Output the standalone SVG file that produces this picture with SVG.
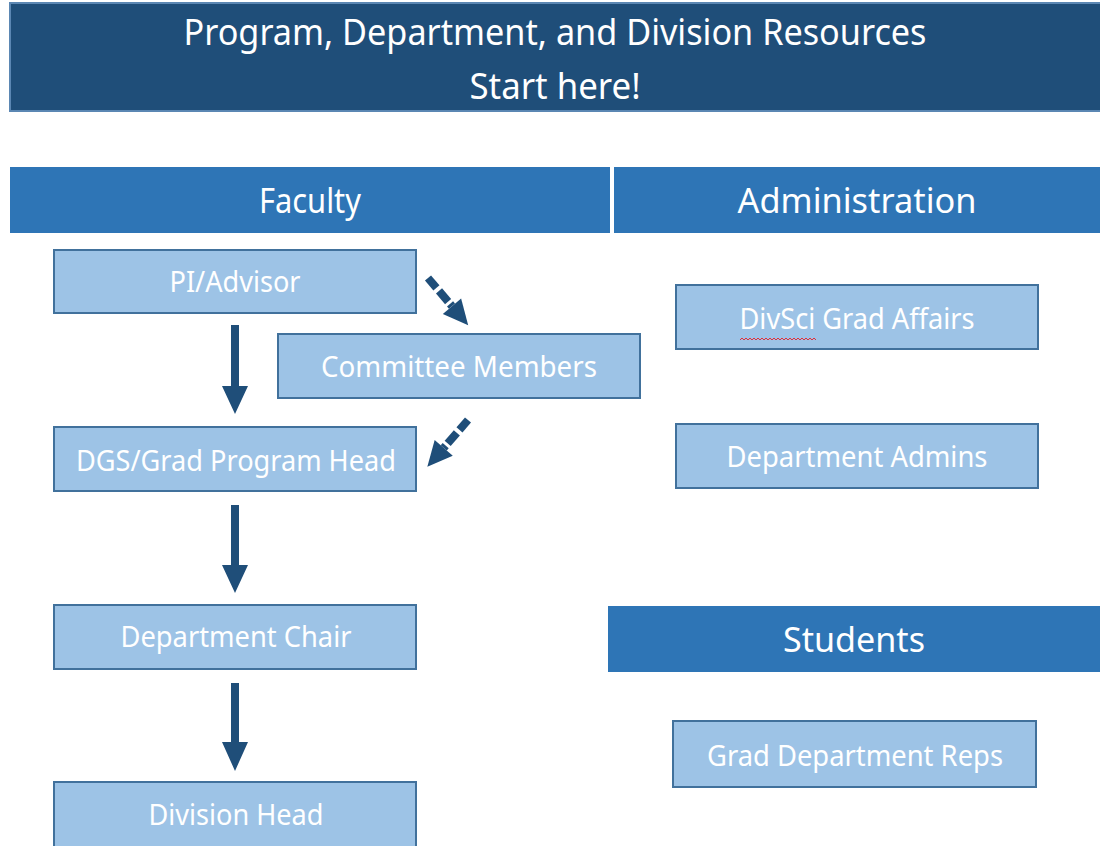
<svg xmlns="http://www.w3.org/2000/svg" width="1100" height="846" viewBox="0 0 1100 846">
<defs>
<style>
.banner{fill:#1f4e79;stroke:#5b87b3;stroke-width:2}
.hdr{fill:#2e75b6}
.box{fill:#9dc3e6;stroke:#41719c;stroke-width:2}
text{font-family:"Noto Sans","Open Sans","Liberation Sans",sans-serif;fill:#ffffff;text-anchor:middle}
.t1{font-size:36px}
.t2{font-size:34px}
.t3{font-size:29px}
.arr{fill:#1f4e79}
</style>
</defs>
<rect width="1100" height="846" fill="#ffffff"/>
<g id="title">
<rect class="banner" x="10" y="3" width="1095" height="108"/>
<text class="t1" x="555" y="45" textLength="743" lengthAdjust="spacingAndGlyphs">Program, Department, and Division Resources</text>
<text class="t1" x="555" y="99" textLength="171" lengthAdjust="spacingAndGlyphs">Start here!</text>
</g>
<g id="faculty-header">
<rect class="hdr" x="10" y="167" width="600" height="66"/>
<text class="t2" x="310" y="213" textLength="102" lengthAdjust="spacingAndGlyphs">Faculty</text>
</g>
<g id="administration-header">
<rect class="hdr" x="614" y="167" width="486" height="66"/>
<text class="t2" x="857" y="213" textLength="239" lengthAdjust="spacingAndGlyphs">Administration</text>
</g>
<g id="students-header">
<rect class="hdr" x="608" y="606" width="492" height="66"/>
<text class="t2" x="854" y="652" textLength="142" lengthAdjust="spacingAndGlyphs">Students</text>
</g>
<g id="pi-advisor">
<rect class="box" x="54" y="250" width="362" height="63"/>
<text class="t3" x="235" y="292" textLength="131" lengthAdjust="spacingAndGlyphs">PI/Advisor</text>
</g>
<g id="committee-members">
<rect class="box" x="278" y="334" width="362" height="64"/>
<text class="t3" x="459" y="377" textLength="276" lengthAdjust="spacingAndGlyphs">Committee Members</text>
</g>
<g id="dgs">
<rect class="box" x="54" y="427" width="362" height="64"/>
<text class="t3" x="236" y="471" textLength="320" lengthAdjust="spacingAndGlyphs">DGS/Grad Program Head</text>
</g>
<g id="department-chair">
<rect class="box" x="54" y="605" width="362" height="64"/>
<text class="t3" x="236" y="647" textLength="231" lengthAdjust="spacingAndGlyphs">Department Chair</text>
</g>
<g id="division-head">
<rect class="box" x="54" y="782" width="362" height="70"/>
<text class="t3" x="236" y="825" textLength="175" lengthAdjust="spacingAndGlyphs">Division Head</text>
</g>
<g id="divsci-grad-affairs">
<rect class="box" x="676" y="285" width="362" height="64"/>
<text class="t3" x="857" y="329" textLength="235" lengthAdjust="spacingAndGlyphs">DivSci Grad Affairs</text>
<path d="M740 340 l2 -2 l2 2 l2 -2 l2 2 l2 -2 l2 2 l2 -2 l2 2 l2 -2 l2 2 l2 -2 l2 2 l2 -2 l2 2 l2 -2 l2 2 l2 -2 l2 2 l2 -2 l2 2 l2 -2 l2 2 l2 -2 l2 2 l2 -2 l2 2 l2 -2 l2 2 l2 -2 l2 2 l2 -2 l2 2 l2 -2 l2 2 l2 -2 l2 2 l2 -2 l2 2" fill="none" stroke="#e0303a" stroke-width="1"/>
</g>
<g id="department-admins">
<rect class="box" x="676" y="424" width="362" height="64"/>
<text class="t3" x="857" y="467" textLength="261" lengthAdjust="spacingAndGlyphs">Department Admins</text>
</g>
<g id="grad-department-reps">
<rect class="box" x="673" y="721" width="363" height="66"/>
<text class="t3" x="855" y="766" textLength="296" lengthAdjust="spacingAndGlyphs">Grad Department Reps</text>
</g>
<g id="connectors">
<polygon class="arr" points="231,325 239,325 239,386 248,386 235,414 222,386 231,386"/>
<polygon class="arr" points="231,505 239,505 239,565 248,565 235,593 222,565 231,565"/>
<polygon class="arr" points="231,683 239,683 239,742 248,742 235,771 222,742 231,742"/>
<g transform="translate(428,278) rotate(49.6)">
<rect class="arr" x="0" y="-4" width="13" height="8"/>
<rect class="arr" x="17" y="-4" width="14" height="8"/>
<rect class="arr" x="34" y="-4" width="3" height="8"/>
<polygon class="arr" points="37,-12 62,0 37,12"/>
</g>
<g transform="translate(468,420) rotate(131)">
<rect class="arr" x="0" y="-4" width="13" height="8"/>
<rect class="arr" x="17" y="-4" width="14" height="8"/>
<rect class="arr" x="34" y="-4" width="3" height="8"/>
<polygon class="arr" points="37,-12 62,0 37,12"/>
</g>
</g>
</svg>
